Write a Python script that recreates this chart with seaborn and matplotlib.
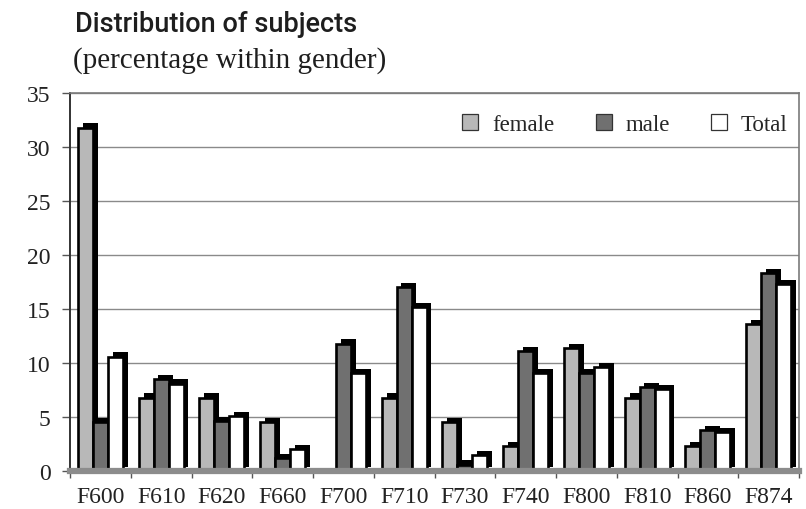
import matplotlib
matplotlib.use("Agg")
import matplotlib.pyplot as plt
import matplotlib.patheffects as pe
from matplotlib.ticker import FixedLocator
import numpy as np
import pandas as pd
import seaborn as sns

categories = ["F600", "F610", "F620", "F660", "F700", "F710",
              "F730", "F740", "F800", "F810", "F860", "F874"]
female = [31.8, 6.8, 6.8, 4.5, 0.0, 6.8, 4.5, 2.3, 11.4, 6.8, 2.3, 13.6]
male = [4.5, 8.5, 4.6, 1.2, 11.8, 17.0, 0.6, 11.1, 9.1, 7.8, 3.8, 18.3]
total = [10.6, 8.1, 5.1, 2.0, 9.1, 15.2, 1.5, 9.1, 9.6, 7.6, 3.6, 17.3]
groups = ["female", "male", "Total"]
y_ticks = [0, 5, 10, 15, 20, 25, 30, 35]

df = pd.DataFrame({
    "code": categories * 3,
    "group": [g for g in groups for _ in categories],
    "pct": female + male + total,
})

sns.set_theme(style="white")
serif = ["Liberation Serif", "DejaVu Serif"]
plt.rcParams["font.family"] = serif

fig = plt.figure(figsize=(8.06, 5.10), dpi=100)
ax = fig.add_axes([70 / 806, 38 / 510, 729 / 806, 378 / 510])

palette = {"female": "#b8b8b8", "male": "#707070", "Total": "#ffffff"}
sns.barplot(data=df, x="code", y="pct", hue="group", order=categories,
            hue_order=groups, palette=palette, width=0.74, saturation=1,
            edgecolor="black", linewidth=1.9, ax=ax, legend=False)

# dark offset copy of every bar gives the extruded look
for bar in ax.patches:
    bar.set_path_effects([
        pe.SimplePatchShadow(offset=(3.5, 3), shadow_rgbFace="black", alpha=1.0),
        pe.Normal(),
    ])

ax.set_ylim(0, 35)
ax.set_xlim(-0.5, len(categories) - 0.5)
ax.yaxis.set_major_locator(FixedLocator(y_ticks))
ax.set_yticklabels([str(t) for t in y_ticks])
ax.grid(axis="y", color="#8a8a8a", linewidth=1.0)
ax.set_axisbelow(True)

for side in ["top", "right"]:
    ax.spines[side].set_color("#7a7a7a")
    ax.spines[side].set_linewidth(1.2)
ax.spines["left"].set_color("#333333")
ax.spines["left"].set_linewidth(1.4)
ax.spines["bottom"].set_color("#8c8c8c")
ax.spines["bottom"].set_linewidth(4.5)

ax.tick_params(axis="y", which="major", left=True, length=6, width=1,
               color="#555555", labelsize=17, pad=8, labelcolor="#222222")
ax.tick_params(axis="x", which="major", bottom=False, labelsize=17,
               pad=5, labelcolor="#222222")
ax.xaxis.set_minor_locator(FixedLocator(np.arange(-0.5, len(categories), 1.0)))
ax.tick_params(axis="x", which="minor", bottom=True, length=5, width=1,
               color="#555555")
ax.set_xlabel("")
ax.set_ylabel("")

handles = [plt.Rectangle((0, 0), 1, 1, facecolor=palette[g],
                         edgecolor="#333333", linewidth=0.9) for g in groups]
ax.legend(handles, groups, ncol=3, loc="upper right", frameon=False,
          bbox_to_anchor=(1.0, 0.975), fontsize=16.5, handlelength=0.7,
          handleheight=0.7, handletextpad=0.6, columnspacing=1.8,
          borderaxespad=0.1)

fig.text(75 / 806, 1 - 24 / 510, "Distribution of subjects",
         fontsize=19.5, fontweight="medium", family=["Roboto", "DejaVu Sans"],
         color="#1e1e1e", va="center", ha="left")
fig.text(73 / 806, 1 - 61 / 510, "(percentage within gender)",
         fontsize=21, family=serif, color="#1e1e1e", va="center", ha="left")

fig.savefig("out.png", dpi=100)
